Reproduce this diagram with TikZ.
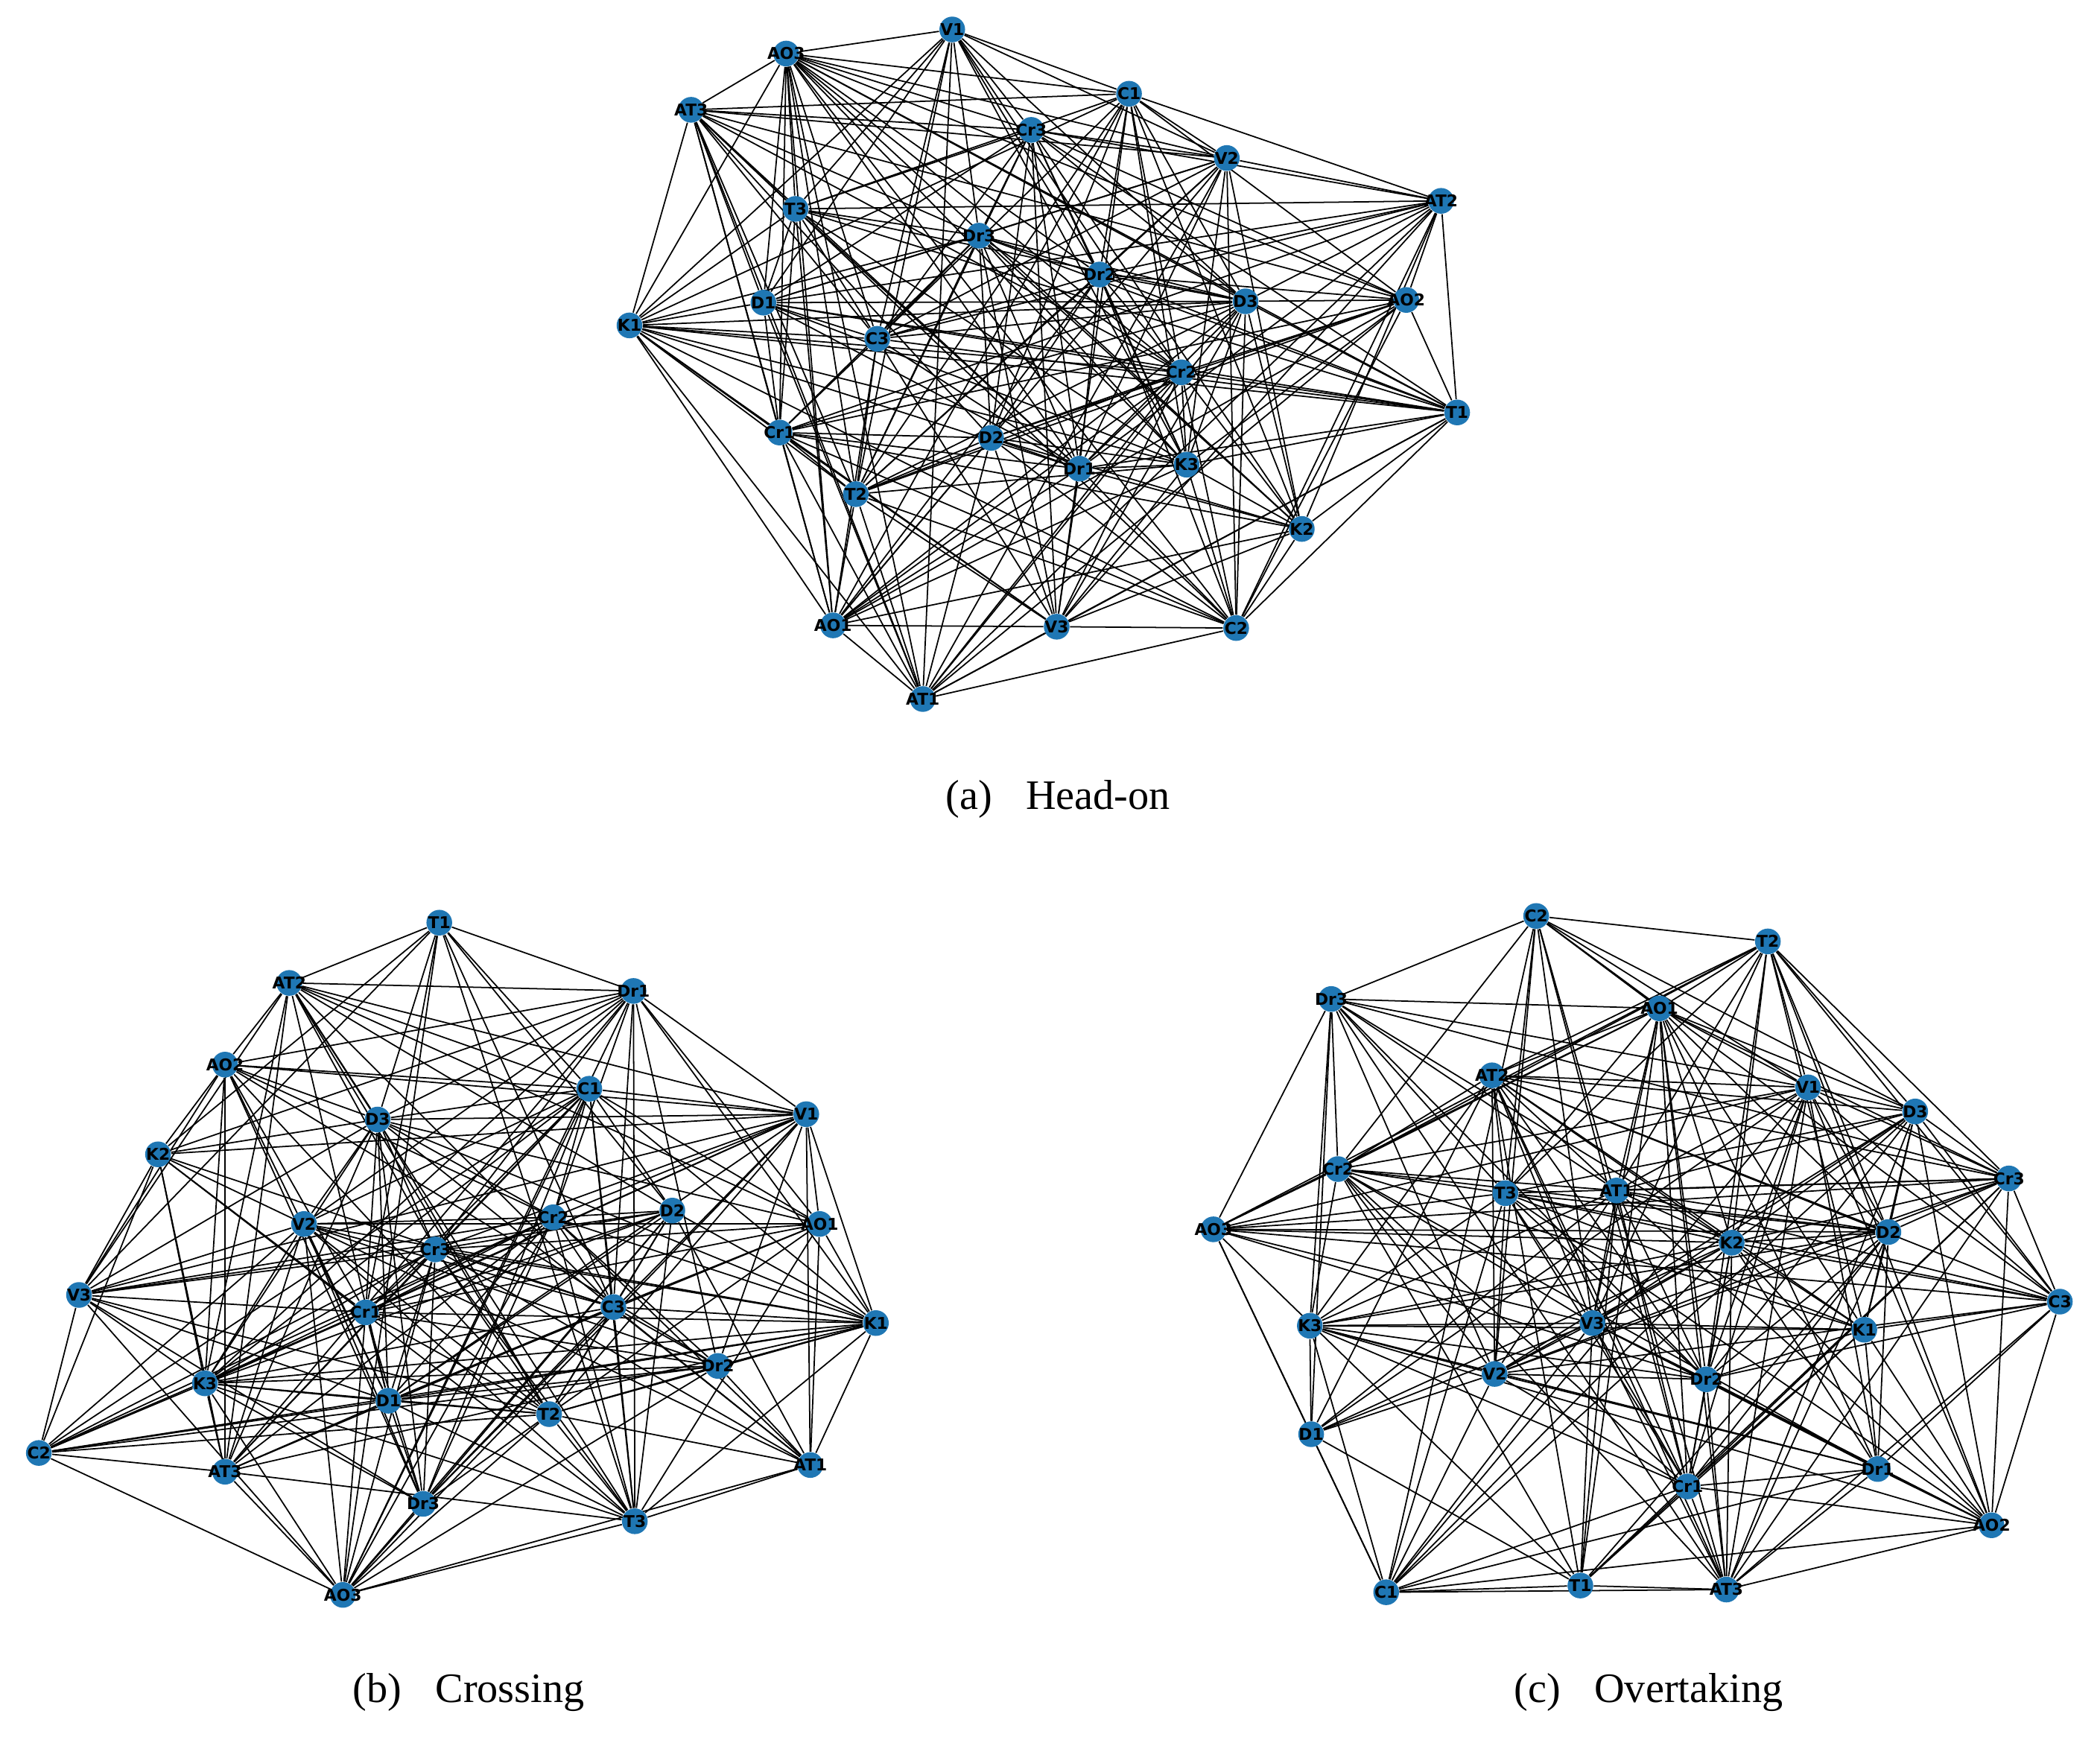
\documentclass[tikz,border=0pt]{standalone}
\usepackage{fontspec}
\setmainfont{Liberation Serif}
\newfontfamily\lblfont{DejaVu Sans}
\pgfdeclarelayer{edgelayer}
\pgfdeclarelayer{bglayer}
\pgfsetlayers{bglayer,edgelayer,main}
\definecolor{nodeblue}{HTML}{1F77B4}
\tikzset{
  gnode/.style={circle, fill=nodeblue, draw=none, inner sep=0pt, minimum size=3.45mm,
     font=\lblfont\bfseries\fontsize{6.2}{6.3}\selectfont, text=black},
  gedge/.style={draw=black, line width=0.5pt},
  capt/.style={font=\fontsize{16}{19}\selectfont, inner sep=0pt}
}
\newcommand\mkgraph[4]{%
  \foreach [count=\i] \lab/\px/\py in {#2}{
    \node[gnode] (#1\i) at (\px,\py) {\makebox[0pt][c]{\lab}};
    \expandafter\xdef\csname #1x\i\endcsname{\px}
    \expandafter\xdef\csname #1y\i\endcsname{\py}
    \expandafter\xdef\csname #1n\i\endcsname{\lab}
  }
  \foreach \u/\v in {#3}{\expandafter\gdef\csname #1h\u-\v\endcsname{}}
  \pgfmathsetseed{#4}
  \begin{pgfonlayer}{edgelayer}
  \foreach \i in {1,...,26}{
    \pgfmathtruncatemacro\jst{\i+1}
    \foreach \j in {\jst,...,27}{
      \edef\la{\csname #1n\i\endcsname}\edef\lb{\csname #1n\j\endcsname}
      \def\forced{0}
      \ifcsname #1h\la-\lb\endcsname\def\forced{1}\fi
      \ifcsname #1h\lb-\la\endcsname\def\forced{1}\fi
      \pgfmathsetmacro\dd{veclen((\csname #1x\i\endcsname-\csname #1x\j\endcsname)/100,(\csname #1y\i\endcsname-\csname #1y\j\endcsname)/100)}
      \pgfmathsetmacro\pp{\forced>0 ? 2 : 0.95-0.1*\dd}
      \pgfmathsetmacro\rr{rnd}
      \ifdim\rr pt<\pp pt\relax
        \draw[gedge] (#1\i) -- (#1\j);
      \fi
    }
  }
  \end{pgfonlayer}
}
\begin{document}
\begin{tikzpicture}[x=0.17978mm, y=-0.17978mm]
\useasboundingbox (0,0) rectangle (1568,1299);
\begin{pgfonlayer}{bglayer}
\fill[white] (0,0) rectangle (1568,1299);
\end{pgfonlayer}

\mkgraph{A}{V1/711/22, AO3/587/40, AT3/516/82, C1/843/70, Cr3/770/97, V2/916/118, AT2/1076/150, T3/594/156, Dr3/731/176, Dr2/821/205, D3/930/225, AO2/1050/224, D1/570/226, K1/470/243, C3/655/253, Cr2/882/278, T1/1088/308, Cr1/582/323, D2/740/327, Dr1/806/350, K3/886/347, T2/639/369, K2/972/395, AO1/622/467, V3/789/468, C2/923/469, AT1/689/522}{K1/AT3, AT3/AO3, AO3/V1, V1/C1, C1/AT2, AT2/T1, T1/K2, K2/C2, C2/AT1, AT1/AO1, AO1/K1, AO1/V3, V3/C2, AT2/AO2, AO2/T1, V2/AT2}{11}

\mkgraph{B}{T1/328/689, AT2/216/734, Dr1/473/740, AO2/168/795, C1/440/813, D3/282/836, V1/602/832, K2/118/862, V2/227/914, Cr2/413/909, D2/502/904, AO1/612/914, Cr3/325/933, V3/59/967, Cr1/273/980, C3/458/976, K1/654/988, Dr2/536/1020, K3/153/1033, D1/290/1046, T2/410/1056, C2/29/1085, AT3/168/1099, AT1/605/1094, Dr3/316/1123, T3/474/1136, AO3/256/1191}{C2/V3, V3/K2, K2/AO2, AO2/AT2, AT2/T1, T1/Dr1, Dr1/V1, V1/AO1, V1/K1, AO1/K1, K1/AT1, AT1/T3, T3/AO3, AO3/C2, AO3/Dr3, C2/AT3}{23}

\mkgraph{C}{C2/1147/684, T2/1320/703, Dr3/994/746, AO1/1239/753, AT2/1114/803, V1/1350/812, D3/1430/830, Cr2/999/873, Cr3/1500/880, T3/1124/891, AT1/1207/889, AO3/906/918, K2/1293/928, D2/1410/920, C3/1538/972, K3/978/990, V3/1189/988, K1/1392/993, V2/1116/1026, Dr2/1274/1030, D1/979/1071, Dr1/1402/1097, Cr1/1260/1110, AO2/1487/1139, C1/1035/1189, T1/1180/1184, AT3/1289/1187}{AO3/Dr3, Dr3/C2, C2/T2, T2/D3, T2/Cr3, D3/Cr3, Cr3/C3, C3/AO2, AO2/AT3, AT3/T1, T1/C1, C1/D1, D1/AO3}{37}

\node[capt] (capA) at (790,597) {(a)\hspace{0.8em}Head-on};
\node[capt] (capB) at (350,1264) {(b)\hspace{0.8em}Crossing};
\node[capt] (capC) at (1231,1264) {(c)\hspace{0.8em}Overtaking};
\end{tikzpicture}
\end{document}
